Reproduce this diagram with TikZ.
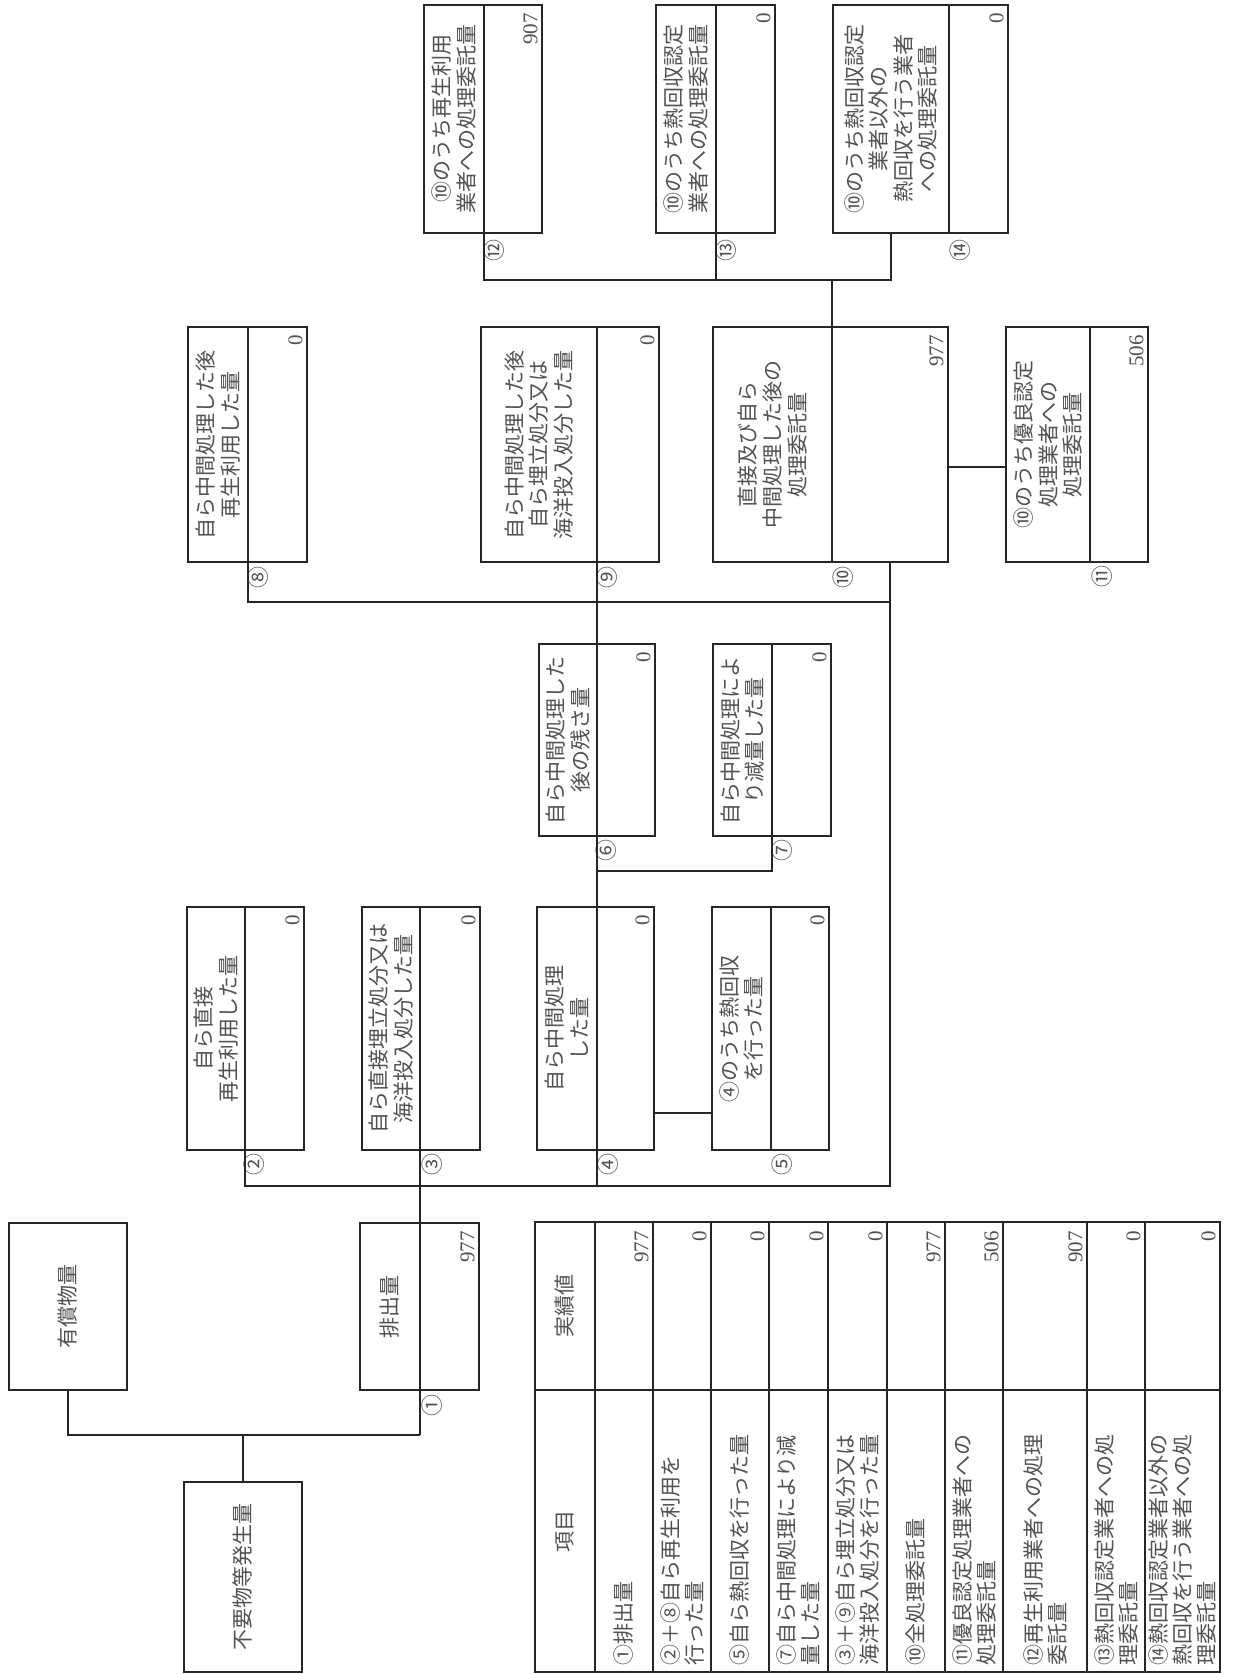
\documentclass[tikz,border=0pt]{standalone}
\usepackage{fontspec}
\setmainfont{Liberation Serif}
\newfontfamily\jp{Noto Sans CJK JP}
\usetikzlibrary{fit}
\newcommand\mybox[6]{%
  \node[cell,fit={(#2,#5) (#3,#6)}] (#1l) {};
  \node[cell,fit={(#3,#5) (#4,#6)}] (#1v) {};}
\begin{document}
\begin{tikzpicture}[x=0.5pt,y=-0.5pt,
  ln/.style={draw=black!85,line width=0.9pt},
  cell/.style={ln,inner sep=0pt,outer sep=0pt},
  lbl/.style={rotate=90,align=center,inner sep=0pt,text=black!68,font=\jp\fontsize{10.5}{12.3}\selectfont},
  val/.style={rotate=90,anchor=south east,inner sep=0pt,text=black!68,font=\fontsize{10.5}{12}\selectfont},
  cnum/.style={rotate=90,inner sep=0pt,text=black!68,font=\jp\fontsize{11}{11}\selectfont},
  tlbl/.style={rotate=90,anchor=west,align=left,inner sep=0pt,text=black!68,font=\jp\fontsize{10.5}{12}\selectfont}]
\useasboundingbox (0,0) rectangle (1232,1674);
\fill[white] (0,0) rectangle (1232,1674);

% ---- boxes ----
\node[cell,fit={(9,1223) (127,1390)}] (yuu) {};
\node[cell,fit={(184,1482) (302,1672)}] (fuyo) {};
\mybox{bh}{360}{420}{479}{1223}{1390}
\mybox{b2}{187}{245}{304}{907}{1150}
\mybox{b3}{362}{420}{480}{907}{1150}
\mybox{b4}{537}{597}{654}{907}{1150}
\mybox{b5}{712}{771}{829}{907}{1150}
\mybox{b6}{539}{597}{655}{644}{836}
\mybox{b7}{713}{772}{831}{644}{836}
\mybox{b8}{188}{248}{307}{327}{562}
\mybox{b9}{481}{597}{659}{327}{562}
\mybox{b10}{713}{832}{948}{327}{562}
\mybox{b11}{1006}{1090}{1148}{327}{562}
\mybox{b12}{424}{484}{542}{5}{233}
\mybox{b13}{656}{716}{775}{5}{233}
\mybox{b14}{833}{949}{1008}{5}{233}

% ---- labels ----
\node[lbl] at (yuu) {有償物量};
\node[lbl] at (fuyo) {不要物等発生量};
\node[lbl] at (bhl) {排出量};
\node[lbl] at (b2l) {自ら直接\\再生利用した量};
\node[lbl] at (b3l) {自ら直接埋立処分又は\\海洋投入処分した量};
\node[lbl] at (b4l) {自ら中間処理\\した量};
\node[lbl] at (b5l) {④のうち熱回収\\を行った量};
\node[lbl] at (b6l) {自ら中間処理した\\後の残さ量};
\node[lbl] at (b7l) {自ら中間処理によ\\り減量した量};
\node[lbl] at (b8l) {自ら中間処理した後\\再生利用した量};
\node[lbl] at (b9l) {自ら中間処理した後\\自ら埋立処分又は\\海洋投入処分した量};
\node[lbl] at (b10l) {直接及び自ら\\中間処理した後の\\処理委託量};
\node[lbl] at (b11l) {⑩のうち優良認定\\処理業者への\\処理委託量};
\node[lbl] at (b12l) {⑩のうち再生利用\\業者への処理委託量};
\node[lbl] at (b13l) {⑩のうち熱回収認定\\業者への処理委託量};
\node[lbl] at (b14l) {⑩のうち熱回収認定\\業者以外の\\熱回収を行う業者\\への処理委託量};

% ---- values ----
\foreach \b/\v in {bh/977,b2/0,b3/0,b4/0,b5/0,b6/0,b7/0,b8/0,b9/0,b10/977,b11/506,b12/907,b13/0,b14/0}
  \node[val] at ([shift={(-4,8)}]\b v.north east) {\v};

% ---- circled numbers ----
\node[cnum] at ([shift={(12,15)}]bhl.south east) {①};
\node[cnum] at ([shift={(9,14)}]b2l.south east) {②};
\node[cnum] at ([shift={(12,14)}]b3l.south east) {③};
\node[cnum] at ([shift={(11,14)}]b4l.south east) {④};
\node[cnum] at ([shift={(11,14)}]b5l.south east) {⑤};
\node[cnum] at ([shift={(9,14)}]b6l.south east) {⑥};
\node[cnum] at ([shift={(10,14)}]b7l.south east) {⑦};
\node[cnum] at ([shift={(10,15)}]b8l.south east) {⑧};
\node[cnum] at ([shift={(10,15)}]b9l.south east) {⑨};
\node[cnum] at ([shift={(11,15)}]b10l.south east) {⑩};
\node[cnum] at ([shift={(12,14)}]b11l.south east) {⑪};
\node[cnum] at ([shift={(10,18)}]b12l.south east) {⑫};
\node[cnum] at ([shift={(10,18)}]b13l.south east) {⑬};
\node[cnum] at ([shift={(11,18)}]b14l.south east) {⑭};

% ---- connectors ----
\coordinate (jb) at (420,1435);
\coordinate (jd) at (890,1186);
\coordinate (jr) at (890,602);
\coordinate (j67) at (772,871);
\coordinate (j45) at (0,1113);
\coordinate (j11) at (0,467);
\coordinate (jt) at (891,280);
\draw[ln] (yuu.south) |- (jb);
\draw[ln] (fuyo.north) -- (fuyo.north |- jb);
\draw[ln] (jb) -- (b3l.north east);
\draw[ln] (b2l.south east) |- (jd) -- (b10v.south);
\draw[ln] (b4l.south east) -- (b4l.south east |- jd);
\draw[ln] (b4l.north east) -- (b9l.south east);
\draw[ln] (b7l.south east) -- (j67) -- (j67 -| b6l.east);
\draw[ln] (b4v.east |- j45) -- (b5l.west |- j45);
\draw[ln] (b8l.south east) |- (jr);
\draw[ln] (b10v.east |- j11) -- (b11l.west |- j11);
\draw[ln] (b12l.south east) |- (jt) -- (b14l.south);
\draw[ln] (b13l.south east) -- (b13l.south east |- jt);
\draw[ln] (b10l.north east) -- (b10l.north east |- jt);

% ---- table ----
\draw[ln] (535,1222) rectangle (1220,1672);
\draw[ln] (535,1390) -- (1220,1390);
\foreach \x in {595,653,711,769,828,887,945,1003,1087,1145}
  \draw[ln] (\x,1222) -- (\x,1672);
\node[lbl] at (565,1531) {項目};
\node[lbl] at (565,1306) {実績値};
\foreach \c/\r/\t/\v in {
  624/653/{①排出量}/977,
  682/711/{②＋⑧自ら再生利用を\\行った量}/0,
  740/769/{⑤自ら熱回収を行った量}/0,
  798.5/828/{⑦自ら中間処理により減\\量した量}/0,
  857.5/887/{③＋⑨自ら埋立処分又は\\海洋投入処分を行った量}/0,
  916/945/{⑩全処理委託量}/977,
  974/1003/{⑪優良認定処理業者への\\処理委託量}/506,
  1045/1087/{⑫再生利用業者への処理\\委託量}/907,
  1116/1145/{⑬熱回収認定業者への処\\理委託量}/0,
  1182.5/1220/{⑭熱回収認定業者以外の\\熱回収を行う業者への処\\理委託量}/0}{
  \node[tlbl] at (\c,1666) {\t};
  \node[val] at (\r-4,1231) {\v};
}
\end{tikzpicture}
\end{document}
